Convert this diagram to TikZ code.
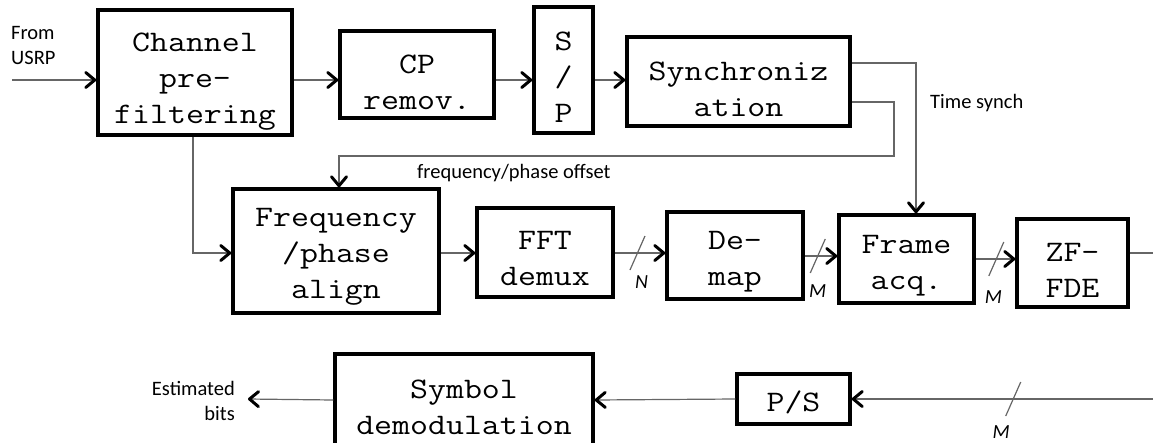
\documentclass[tikz,border=0pt]{standalone}
\usepackage{fontspec}
\setmainfont{Carlito}
\newfontfamily\boxfont{Latin Modern Mono}[FakeStretch=1.17]
\usetikzlibrary{arrows.meta,calc}

\tikzset{
  blk/.style={draw=black, line width=3.5pt, inner sep=0pt},
  txt/.style={inner sep=0pt, align=center, font=\boxfont\fontsize{29.8}{36}\selectfont},
  % block with its caption set slightly below the centre
  tb/.style 2 args={label={[txt, yshift=-#1pt]center:{#2}}},
  wire/.style={draw=black!60, line width=1.2pt},
  conn/.style={wire, -{Straight Barb[length=9pt,width=15pt,line width=3pt,black,round]}},
  lbl/.style={inner sep=0pt, font=\fontsize{20.5}{25}\selectfont},
  busno/.style={inner sep=0pt, font=\itshape\fontsize{20}{24}\selectfont},
}

\begin{document}
\begin{tikzpicture}[x=1pt, y=-1pt]
\useasboundingbox (0,0) rectangle (1153,442);

% processing blocks
\node[blk, minimum width=194pt, minimum height=125pt, tb={9}{Channel\\pre-\\filtering}] (chan)  at (195,72.5)  {};
\node[blk, minimum width=154pt, minimum height=87pt,  tb={7.5}{CP\\remov.}]             (cp)    at (417,74.5)  {};
\node[blk, minimum width=59pt,  minimum height=126pt, tb={7.5}{S\\/\\P}]                (sp)    at (563.5,70)  {};
\node[blk, minimum width=223pt, minimum height=89pt,  tb={7.5}{Synchroniz\\ation}]      (sync)  at (738.5,81.5) {};
\node[blk, minimum width=206pt, minimum height=124pt, tb={5.5}{Frequency\\/phase\\align}] (freq) at (336,251) {};
\node[blk, minimum width=136pt, minimum height=89pt,  tb={5.5}{FFT\\demux}]             (fft)   at (545,252.5) {};
\node[blk, minimum width=136pt, minimum height=87pt,  tb={6.5}{De-\\map}]               (demap) at (735,255.5) {};
\node[blk, minimum width=135pt, minimum height=88pt,  tb={7}{Frame\\acq.}]              (frame) at (906.5,259) {};
\node[blk, minimum width=111pt, minimum height=88pt,  tb={7.5}{ZF-\\FDE}]               (zf)    at (1072.5,263) {};
\node[blk, minimum width=258pt, minimum height=92pt,  tb={7}{Symbol\\demodulation}]     (sym)   at (464,400)   {};
\node[blk, minimum width=113pt, minimum height=50pt,  tb={3}{P/S}]                      (ps)    at (793.5,399) {};

% first row
\coordinate (usrp) at (12,80);
\coordinate (row1) at (0,80);
\node[lbl, anchor=west, align=left] (fromlbl) at (11,45) {From\\USRP};
\draw[conn] (usrp) -- (chan.west |- row1);
\draw[conn] (chan.east |- row1) -- (cp.west |- row1);
\draw[conn] (cp.east |- row1) -- (sp.west |- row1);
\draw[conn] (sp.east |- row1) -- (sync.west |- row1);

% feedback from synchronization
\coordinate (tturn) at (916,63);
\draw[conn] (sync.east |- tturn) -- (tturn) -- (tturn |- frame.north);
\node[lbl, anchor=west] (tslbl) at (930,103) {Time synch};

\coordinate (fturn) at (894,102);
\coordinate (fdrop) at (339,156);
\draw[conn] (sync.east |- fturn) -- (fturn) |- (fdrop) -- (fdrop |- freq.north);
\node[lbl, anchor=west] (folbl) at (417,173) {frequency/phase offset};

% pre-filtered signal down to the aligner
\coordinate (cbend) at (193,253);
\draw[conn] (chan.south -| cbend) -- (cbend) -- (cbend -| freq.west);

% second row
\coordinate (ya) at (0,253);
\coordinate (yb) at (0,256);
\coordinate (yc) at (0,259);
\coordinate (outR) at (1153,253);
\draw[conn] (freq.east |- ya) -- (fft.west |- ya);
\draw[conn] (fft.east |- ya) -- coordinate[pos=0.45] (s1) (demap.west |- ya);
\draw[conn] (demap.east |- yb) -- coordinate[pos=0.40] (s2) (frame.west |- yb);
\draw[conn] (frame.east |- yc) -- coordinate[pos=0.52] (s3) (zf.west |- yc);
\draw[wire] (zf.east |- outR) -- (outR);

% third row
\coordinate (inR) at (1153,399);
\coordinate (bits) at (248,399);
\draw[conn] (inR) -- coordinate[pos=0.464] (s4) (ps.east);
\draw[conn] (ps.west) -- (sym.east);
\draw[conn] (sym.west) -- (bits);
\node[lbl, anchor=east, align=right] (bitslbl) at (235,401) {Estimated\\bits};

% bus width marks
\foreach \s in {s1,s2,s3,s4}
  \draw[wire] ($(\s)+(-7.5,17)$) -- ($(\s)+(7.5,-17)$);
\node[busno] (n1) at ($(s1)+(4,29)$) {N};
\node[busno] (m1) at ($(s2)+(0,35)$) {M};
\node[busno] (m2) at ($(s3)+(-3,38)$) {M};
\node[busno] (m3) at ($(s4)+(-12,33)$) {M};
\end{tikzpicture}
\end{document}
